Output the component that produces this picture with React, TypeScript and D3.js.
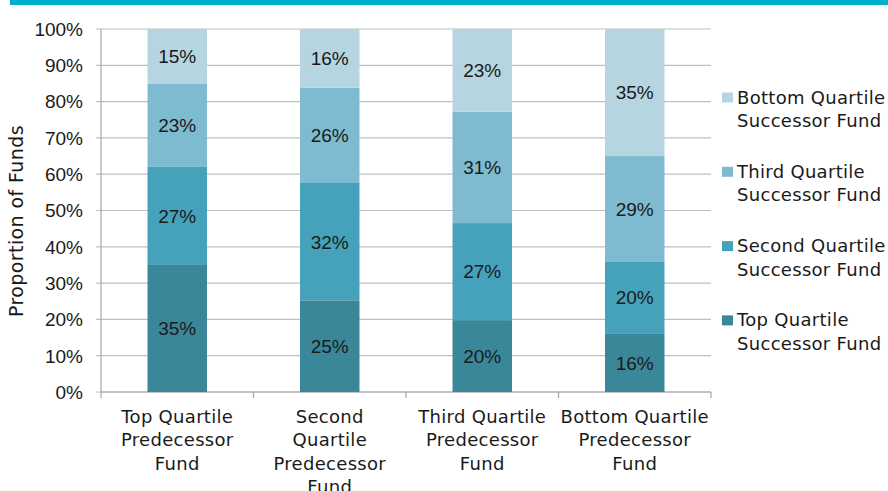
import React from "react";
import * as d3 from "d3";

// Predecessor fund quartiles (x categories), each wrapped onto lines
const categories = [
  "Top Quartile Predecessor Fund",
  "Second Quartile Predecessor Fund",
  "Third Quartile Predecessor Fund",
  "Bottom Quartile Predecessor Fund",
];
const categoryLines = [
  ["Top Quartile", "Predecessor", "Fund"],
  ["Second", "Quartile", "Predecessor", "Fund"],
  ["Third Quartile", "Predecessor", "Fund"],
  ["Bottom Quartile", "Predecessor", "Fund"],
];

// Successor fund quartile shares (%) per predecessor category
const topSuccessor = [35, 25, 20, 16];
const secondSuccessor = [27, 32, 27, 20];
const thirdSuccessor = [23, 26, 31, 29];
const bottomSuccessor = [15, 16, 23, 35];

const seriesNames = [
  "Top Quartile Successor Fund",
  "Second Quartile Successor Fund",
  "Third Quartile Successor Fund",
  "Bottom Quartile Successor Fund",
];
const legendLines = [
  ["Top Quartile", "Successor Fund"],
  ["Second Quartile", "Successor Fund"],
  ["Third Quartile", "Successor Fund"],
  ["Bottom Quartile", "Successor Fund"],
];
const seriesColors = ["#3a8799", "#46a2ba", "#7fbbd0", "#b5d5e0"];
const yTicks = [0, 0.1, 0.2, 0.3, 0.4, 0.5, 0.6, 0.7, 0.8, 0.9, 1.0];

const FONT = "'DejaVu Sans', sans-serif";
const NUM_FONT = "'Liberation Sans', Arial, sans-serif";

export default function App() {
  const width = 888;
  const height = 491;
  const plotLeft = 101;
  const plotRight = 711;
  const plotTop = 29;
  const plotBottom = 392;

  const seriesValues = [topSuccessor, secondSuccessor, thirdSuccessor, bottomSuccessor];
  const rows = categories.map((c, i) => {
    const row: Record<string, number | string> = { category: c };
    seriesNames.forEach((s, j) => (row[s] = seriesValues[j][i]));
    return row;
  });

  const stacked = d3
    .stack<Record<string, number | string>>()
    .keys(seriesNames)
    .offset(d3.stackOffsetExpand)(rows as any);

  const x = d3
    .scaleBand<string>()
    .domain(categories)
    .range([plotLeft, plotRight])
    .paddingInner(0.61)
    .paddingOuter(0.305);
  const y = d3.scaleLinear().domain([0, 1]).range([plotBottom, plotTop]);
  const fmt = d3.format(".0%");

  const step = x.step();
  const boundaries = d3.range(categories.length + 1).map((i) => plotLeft + i * step);

  return (
    <svg width={width} height={height} style={{ position: "absolute", left: 0, top: 0, background: "#fff" }}>
      <rect x={10} y={0} width={878} height={5} fill="#00b0cb" />

      {/* gridlines and y ticks */}
      {yTicks.map((t) => (
        <g key={t}>
          <line x1={plotLeft - 5} x2={plotRight} y1={y(t)} y2={y(t)} stroke="#bfbfbf" strokeWidth={1.2} />
          <text
            x={83}
            y={y(t)}
            dy="0.36em"
            textAnchor="end"
            fontFamily={NUM_FONT}
            fontSize={19}
            fill="#1a1a1a"
          >
            {fmt(t)}
          </text>
        </g>
      ))}

      {/* axes */}
      <line x1={plotLeft} x2={plotLeft} y1={plotTop} y2={plotBottom} stroke="#a6a6a6" strokeWidth={1.2} />
      <line x1={plotLeft} x2={plotRight} y1={plotBottom} y2={plotBottom} stroke="#a6a6a6" strokeWidth={1.2} />
      {boundaries.map((b, i) => (
        <line key={i} x1={b} x2={b} y1={plotBottom} y2={plotBottom + 6} stroke="#a6a6a6" strokeWidth={1.2} />
      ))}

      {/* stacked bars */}
      {stacked.map((layer, j) => (
        <g key={layer.key} fill={seriesColors[j]}>
          {layer.map((d, i) => {
            const cat = categories[i];
            const y0 = y(d[0]);
            const y1 = y(d[1]);
            return (
              <g key={cat}>
                <rect x={x(cat)!} y={y1} width={x.bandwidth()} height={y0 - y1} />
                <text
                  x={x(cat)! + x.bandwidth() / 2}
                  y={(y0 + y1) / 2}
                  dy="0.36em"
                  textAnchor="middle"
                  fontFamily={NUM_FONT}
                  fontSize={19}
                  fill="#1a1a1a"
                >
                  {seriesValues[j][i]}%
                </text>
              </g>
            );
          })}
        </g>
      ))}

      {/* category labels */}
      {categories.map((c, i) => (
        <text
          key={c}
          x={x(c)! + x.bandwidth() / 2}
          textAnchor="middle"
          fontFamily={FONT}
          fontSize={18}
          letterSpacing={0.3}
          fill="#1a1a1a"
        >
          {categoryLines[i].map((ln, k) => (
            <tspan key={k} x={x(c)! + x.bandwidth() / 2} y={422.5 + k * 23.5}>
              {ln}
            </tspan>
          ))}
        </text>
      ))}

      {/* y axis title */}
      <text
        transform={`translate(23, 221) rotate(-90)`}
        textAnchor="middle"
        fontFamily={FONT}
        fontSize={19}
        letterSpacing={0.4}
        fill="#1a1a1a"
      >
        Proportion of Funds
      </text>

      {/* legend, drawn top-down from the last series */}
      {seriesNames
        .map((s, j) => ({ s, j }))
        .reverse()
        .map(({ s, j }, k) => {
          const cy = 97.5 + k * 74.3;
          return (
            <g key={s}>
              <rect x={722} y={cy - 5} width={11} height={10} fill={seriesColors[j]} />
              <text fontFamily={FONT} fontSize={18} letterSpacing={0.3} fill="#1a1a1a">
                {legendLines[j].map((ln, m) => (
                  <tspan key={m} x={737} y={cy + 6 + m * 23.5}>
                    {ln}
                  </tspan>
                ))}
              </text>
            </g>
          );
        })}
    </svg>
  );
}
